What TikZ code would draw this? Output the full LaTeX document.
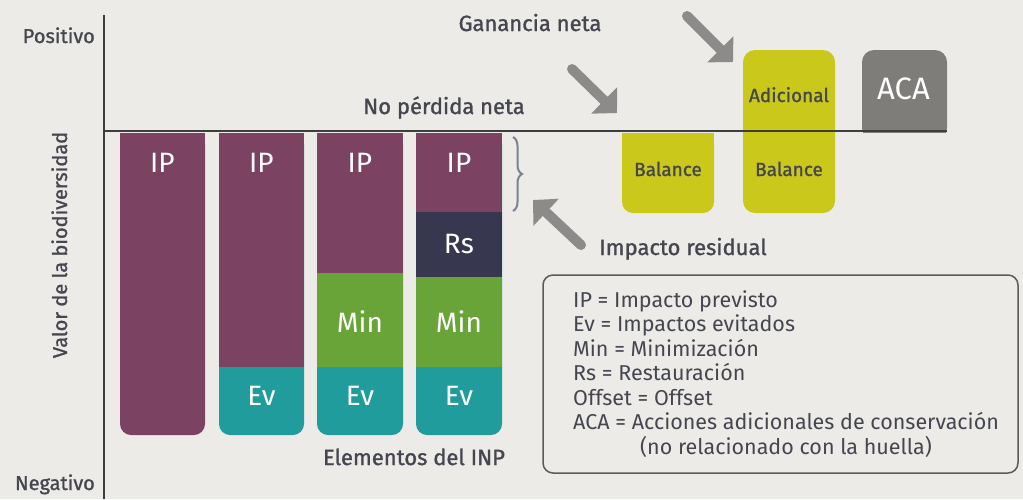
\documentclass[tikz,border=0pt]{standalone}
\usepackage{fontspec}
\setmainfont{Fira Sans}
\newfontfamily\medfont{Fira Sans}[FakeBold=1.2]
\usetikzlibrary{arrows.meta,decorations.pathreplacing}
\definecolor{bgc}{HTML}{EDEBE7}
\definecolor{ipc}{HTML}{7C4262}
\definecolor{evc}{HTML}{1F9C9B}
\definecolor{minc}{HTML}{68A437}
\definecolor{rsc}{HTML}{37384F}
\definecolor{balc}{HTML}{C9C81B}
\definecolor{acac}{HTML}{7F7D7A}
\definecolor{arrc}{HTML}{8C8B89}
\definecolor{axc}{HTML}{3E3E3E}
\definecolor{txc}{HTML}{45464F}
\definecolor{brc}{HTML}{7A8290}
\tikzset{
  lbl/.style={text=txc,font=\fontsize{22}{24}\medfont,inner sep=0pt},
  axlbl/.style={text=txc,font=\fontsize{20}{22}\medfont,inner sep=0pt},
  barlbl/.style={text=white,font=\fontsize{28}{30}\selectfont,inner sep=0pt,anchor=base},
  ballbl/.style={text=txc,font=\fontsize{19}{21}\medfont,inner sep=0pt,anchor=base},
  leg/.style={text=txc,font=\fontsize{21.5}{23}\selectfont,inner sep=0pt,anchor=base west},
  bigarrow/.style={draw=arrc,line width=10pt,-{Triangle[length=18pt,width=36pt]},line cap=round},
}
\begin{document}
\begin{tikzpicture}[x=1pt,y=-1pt]
\fill[bgc] (0,0) rectangle (1023,499);
\useasboundingbox (0,0) rectangle (1023,499);
% bar 1
\fill[ipc,rounded corners=11pt] (120,133) rectangle (205,435);
\fill[ipc] (120,133) rectangle (205,160);
% bar 2
\fill[evc,rounded corners=11pt] (219,133) rectangle (304,435);
\fill[ipc] (219,133) rectangle (304,367);
% bar 3
\fill[evc,rounded corners=11pt] (317,133) rectangle (403,435);
\fill[ipc] (317,133) rectangle (403,273);
\fill[minc] (317,273) rectangle (403,367);
% bar 4
\fill[evc,rounded corners=11pt] (416,133) rectangle (502,435);
\fill[ipc] (416,133) rectangle (502,212);
\fill[rsc] (416,212) rectangle (502,277);
\fill[minc] (416,277) rectangle (502,367);
% bar labels
\node[barlbl] (ip1) at (162.5,172.5) {IP};
\node[barlbl] (ip2) at (261.5,172.5) {IP};
\node[barlbl] (ip3) at (360,172.5) {IP};
\node[barlbl] (ip4) at (459,172.5) {IP};
\node[barlbl] (rs4) at (459,253) {Rs};
\node[barlbl] (min3) at (360,332) {Min};
\node[barlbl] (min4) at (459,332) {Min};
\node[barlbl] (ev2) at (261.5,405) {Ev};
\node[barlbl] (ev3) at (360,405) {Ev};
\node[barlbl] (ev4) at (459,405) {Ev};
% balance boxes
\fill[balc,rounded corners=11pt] (622,133) rectangle (714,213);
\fill[balc] (622,133) rectangle (714,160);
\fill[balc,rounded corners=12pt] (743,50) rectangle (835,213);
\fill[acac,rounded corners=12pt] (862,50) rectangle (947,140);
\fill[bgc] (860,132.5) rectangle (950,145);
\node[ballbl] (bal1) at (668,176) {Balance};
\node[ballbl] (bal2) at (789,176) {Balance};
\node[ballbl] (adic) at (789,102) {Adicional};
\node[barlbl,font=\fontsize{31}{33}\selectfont] (aca) at (903.5,99.5) {ACA};
% axes
\draw[axc,line width=2.5pt] (104,15) -- (104,499);
\draw[axc,line width=2.5pt] (104,131) -- (947,131);
% brace
\draw[brc,line width=2pt,decorate,decoration={brace,amplitude=9pt}] (513,137) -- (513,211);
% arrows
\coordinate (a1s) at (572,69);
\coordinate (a1e) at (617,113);
\coordinate (a2s) at (687,16);
\coordinate (a2e) at (733,62);
\coordinate (a3s) at (581,245);
\coordinate (a3e) at (533,200);
\draw[bigarrow] (a1s) -- (a1e);
\draw[bigarrow] (a2s) -- (a2e);
\draw[bigarrow] (a3s) -- (a3e);
% axis labels
\node[axlbl,anchor=base east] (pos) at (95,43) {Positivo};
\node[axlbl,anchor=base east] (neg) at (95,490) {Negativo};
\node[axlbl,anchor=base,rotate=90] (valor) at (67,245) {Valor de la biodiversidad};
\node[lbl,anchor=base] (gan) at (530,31) {Ganancia neta};
\node[lbl,anchor=base] (npn) at (444,114) {No pérdida neta};
\node[lbl,anchor=base] (imp) at (683,255) {Impacto residual};
\node[lbl,anchor=base] (elem) at (414,465) {Elementos del INP};
% legend
\draw[axc!85,line width=1.5pt,rounded corners=10pt] (543,275) rectangle (1018,473);
\node[leg] (l1) at (573,307) {IP = Impacto previsto};
\node[leg] (l2) at (573,331.5) {Ev = Impactos evitados};
\node[leg] (l3) at (573,356) {Min = Minimización};
\node[leg] (l4) at (573,380.5) {Rs = Restauración};
\node[leg] (l5) at (573,405) {Offset = Offset};
\node[leg] (l6) at (573,429.5) {ACA = Acciones adicionales de conservación};
\node[leg] (l7) at (640,454) {(no relacionado con la huella)};
\end{tikzpicture}
\end{document}
